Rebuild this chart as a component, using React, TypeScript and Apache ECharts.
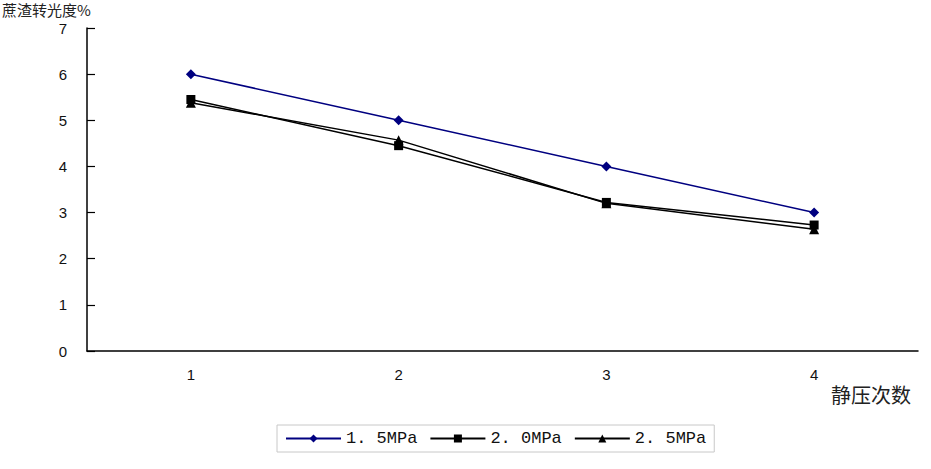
import React, { useEffect, useRef } from "react";
import * as echarts from "echarts";

const categories = ["1", "2", "3", "4"];
const series15 = [6.0, 5.0, 4.0, 3.0];
const series20 = [5.45, 4.45, 3.22, 2.73];
const series25 = [5.38, 4.57, 3.2, 2.64];
const seriesNames = ["1. 5MPa", "2. 0MPa", "2. 5MPa"];
const yTitle = "蔗渣转光度%";
const xTitle = "静压次数";

export default function App() {
  const ref = useRef<HTMLDivElement>(null);
  useEffect(() => {
    if (!ref.current) return;
    const chart = echarts.init(ref.current, null, { renderer: "svg" });
    const font = "'Noto Sans CJK SC', 'DejaVu Sans', sans-serif";
    const numFont = "'Liberation Sans', 'DejaVu Sans', sans-serif";
    chart.setOption({
      animation: false,
      backgroundColor: "#ffffff",
      grid: { left: 87, right: 13, top: 28, bottom: 118 },
      xAxis: {
        type: "category",
        data: categories,
        boundaryGap: true,
        axisLine: { lineStyle: { color: "#000", width: 1.5 } },
        axisTick: { inside: true, length: 5, lineStyle: { color: "#000", width: 1.2 } },
        axisLabel: { color: "#111", fontSize: 15, margin: 16, fontFamily: numFont },
        splitLine: { show: false },
      },
      yAxis: {
        type: "value",
        min: 0,
        max: 7,
        interval: 1,
        axisLine: { show: true, lineStyle: { color: "#000", width: 1.5 } },
        axisTick: { show: true, inside: true, length: 8, lineStyle: { color: "#000", width: 1.2 } },
        axisLabel: { color: "#111", fontSize: 15, lineHeight: 14, margin: 20, fontFamily: numFont },
        splitLine: { show: false },
      },
      legend: {
        left: 277,
        top: 425,
        padding: [5, 8],
        itemGap: 12,
        itemWidth: 55,
        itemHeight: 10,
        borderColor: "#c8c8c8",
        borderWidth: 1,
        textStyle: { fontSize: 17, color: "#111", fontFamily: "'Liberation Mono', 'DejaVu Sans Mono', monospace" },
        data: seriesNames,
      },
      graphic: [
        {
          type: "text",
          left: 2,
          top: 2,
          style: { text: yTitle, fontSize: 15, lineHeight: 15, fill: "#222", fontFamily: font },
        },
        {
          type: "text",
          left: 831,
          top: 384,
          style: { text: xTitle, fontSize: 20, fill: "#222", fontFamily: font },
        },
      ],
      series: [
        {
          name: seriesNames[0],
          type: "line",
          data: series15,
          symbol: "diamond",
          symbolSize: 10,
          itemStyle: { color: "#000080" },
          lineStyle: { color: "#000080", width: 1.5 },
        },
        {
          name: seriesNames[1],
          type: "line",
          data: series20,
          symbol: "rect",
          symbolSize: 9,
          itemStyle: { color: "#000" },
          lineStyle: { color: "#000", width: 1.5 },
        },
        {
          name: seriesNames[2],
          type: "line",
          data: series25,
          symbol: "triangle",
          symbolSize: 10,
          itemStyle: { color: "#000" },
          lineStyle: { color: "#000", width: 1.5 },
        },
      ],
    });
    return () => chart.dispose();
  }, []);
  return <div ref={ref} style={{ width: 931, height: 469, position: "absolute", left: 0, top: 0 }} />;
}
